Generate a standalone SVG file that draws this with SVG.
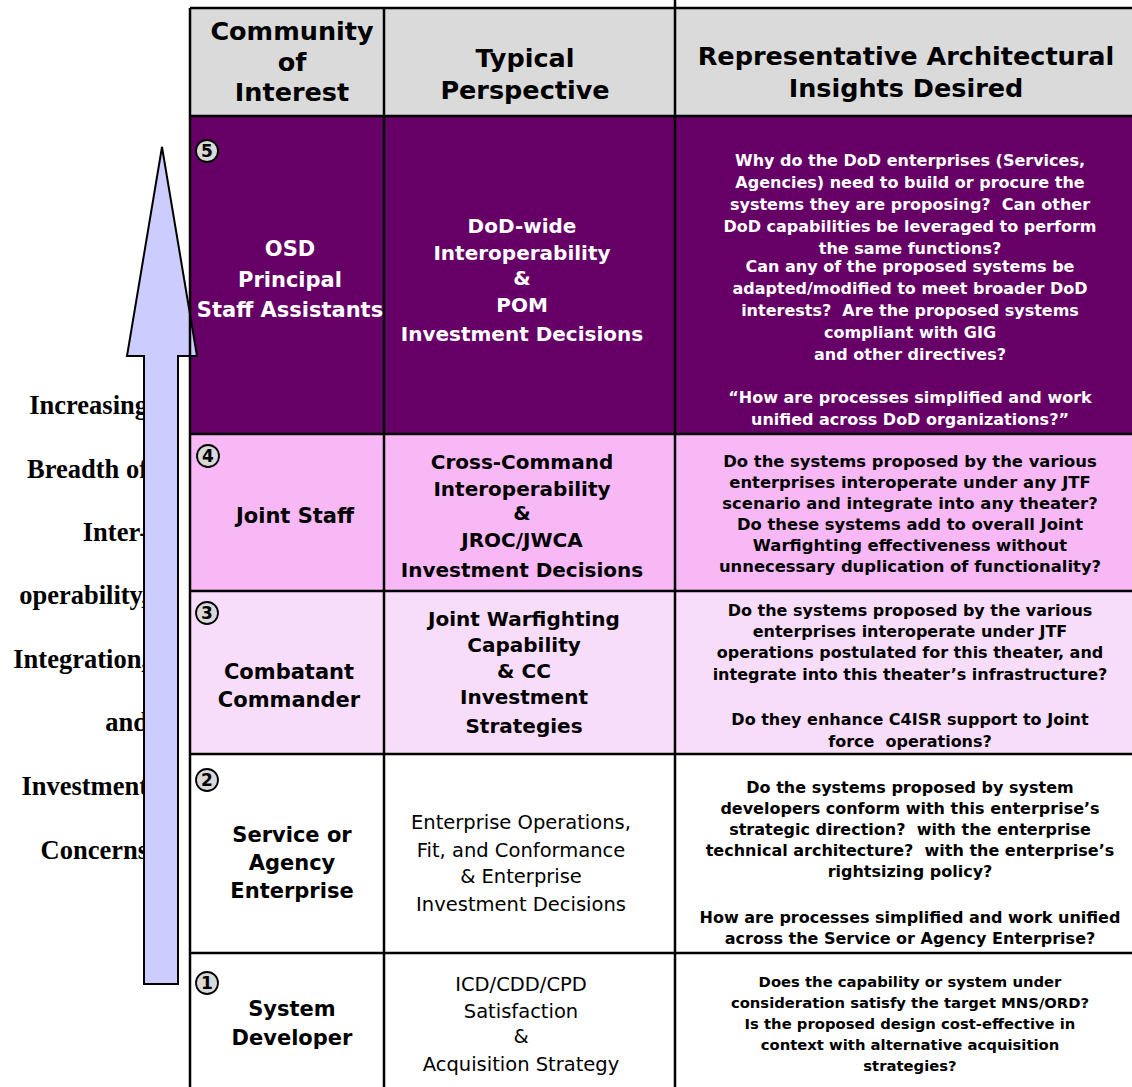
<svg xmlns="http://www.w3.org/2000/svg" width="1132" height="1087" viewBox="0 0 1132 1087">
<style>
text{font-family:"DejaVu Sans","Liberation Sans",sans-serif;text-anchor:middle;white-space:pre}
.h{font-size:25.5px;font-weight:bold;fill:#000}
.c1{font-size:21px;font-weight:bold}
.c2{font-size:20px;font-weight:bold}
.c2n{font-size:19.5px;font-weight:normal;fill:#000}
.c3{font-size:16px;font-weight:bold}
.r4{font-size:16.4px}
.r1{font-size:14.8px}
.w{fill:#fff}
.k{fill:#000}
.lt{font-family:"Liberation Serif","Times New Roman",serif;font-size:26.5px;font-weight:bold;text-anchor:end;fill:#000}
.num circle{fill:#d9d9d9;stroke:#000;stroke-width:1.8}
.num text{font-size:17px;font-weight:bold;fill:#000}
.ln{stroke:#000;stroke-width:2.5;fill:none}
</style>
<rect x="0" y="0" width="1132" height="1087" fill="#fff"/>
<g id="left-label">
<text class="lt" x="148" y="414">Increasing</text>
<text class="lt" x="148" y="478">Breadth of</text>
<text class="lt" x="148" y="541">Inter-</text>
<text class="lt" x="148" y="604">operability,</text>
<text class="lt" x="148" y="668">Integration,</text>
<text class="lt" x="148" y="731">and</text>
<text class="lt" x="148" y="795">Investment</text>
<text class="lt" x="148" y="859">Concerns</text>
</g>
<g id="table-fills">
<rect x="190" y="8" width="942" height="108" fill="#dadada"/>
<rect x="190" y="116" width="942" height="318" fill="#660066"/>
<rect x="190" y="434" width="942" height="157" fill="#f8b8f6"/>
<rect x="190" y="591" width="942" height="163" fill="#f8ddfa"/>
<rect x="190" y="754" width="942" height="333" fill="#ffffff"/>
</g>
<g id="arrow">
<path d="M162,147 L197,356 L178,356 L178,984 L144,984 L144,356 L127,356 Z" fill="#ccccff" stroke="#000" stroke-width="2" stroke-linejoin="miter"/>
</g>
<g id="grid">
<line class="ln" x1="190" y1="8" x2="1132" y2="8"/>
<line class="ln" x1="190" y1="116" x2="1132" y2="116"/>
<line class="ln" x1="190" y1="434" x2="1132" y2="434"/>
<line class="ln" x1="190" y1="591" x2="1132" y2="591"/>
<line class="ln" x1="190" y1="754" x2="1132" y2="754"/>
<line class="ln" x1="190" y1="953" x2="1132" y2="953"/>
<line class="ln" x1="190" y1="8" x2="190" y2="1087"/>
<line class="ln" x1="384" y1="8" x2="384" y2="1087"/>
<line class="ln" x1="675" y1="0" x2="675" y2="1087"/>
</g>
<g id="header">
<text class="h" x="292" y="40">Community</text>
<text class="h" x="292" y="71">of</text>
<text class="h" x="292" y="101">Interest</text>
<text class="h" x="525" y="67">Typical</text>
<text class="h" x="525" y="99">Perspective</text>
<text class="h" x="906" y="65">Representative Architectural</text>
<text class="h" x="906" y="97">Insights Desired</text>
</g>
<g id="row5">
<g class="num"><circle cx="207" cy="151" r="11"/><text x="207" y="157">5</text></g>
<text class="c1 w" x="290" y="256">OSD</text>
<text class="c1 w" x="290" y="287">Principal</text>
<text class="c1 w" x="290" y="317">Staff Assistants</text>
<text class="c2 w" x="522" y="233">DoD-wide</text>
<text class="c2 w" x="522" y="260">Interoperability</text>
<text class="c2 w" x="522" y="285">&amp;</text>
<text class="c2 w" x="522" y="312">POM</text>
<text class="c2 w" x="522" y="341">Investment Decisions</text>
<text class="c3 w" x="910" y="166">Why do the DoD enterprises (Services,</text>
<text class="c3 w" x="910" y="188">Agencies) need to build or procure the</text>
<text class="c3 w" x="910" y="210">systems they are proposing?  Can other</text>
<text class="c3 w" x="910" y="232">DoD capabilities be leveraged to perform</text>
<text class="c3 w" x="910" y="254">the same functions?</text>
<text class="c3 w" x="910" y="272">Can any of the proposed systems be</text>
<text class="c3 w" x="910" y="294">adapted/modified to meet broader DoD</text>
<text class="c3 w" x="910" y="316">interests?  Are the proposed systems</text>
<text class="c3 w" x="910" y="338">compliant with GIG</text>
<text class="c3 w" x="910" y="360">and other directives?</text>
<text class="c3 w" x="910" y="403">“How are processes simplified and work</text>
<text class="c3 w" x="910" y="425">unified across DoD organizations?”</text>
</g>
<g id="row4">
<g class="num"><circle cx="208" cy="456" r="11"/><text x="208" y="462">4</text></g>
<text class="c1 k" x="295" y="523">Joint Staff</text>
<text class="c2 k" x="522" y="469">Cross-Command</text>
<text class="c2 k" x="522" y="496">Interoperability</text>
<text class="c2 k" x="522" y="520">&amp;</text>
<text class="c2 k" x="522" y="547">JROC/JWCA</text>
<text class="c2 k" x="522" y="577">Investment Decisions</text>
<text class="c3 r4 k" x="910" y="467">Do the systems proposed by the various</text>
<text class="c3 r4 k" x="910" y="488">enterprises interoperate under any JTF</text>
<text class="c3 r4 k" x="910" y="509">scenario and integrate into any theater?</text>
<text class="c3 r4 k" x="910" y="530">Do these systems add to overall Joint</text>
<text class="c3 r4 k" x="910" y="551">Warfighting effectiveness without</text>
<text class="c3 r4 k" x="910" y="572">unnecessary duplication of functionality?</text>
</g>
<g id="row3">
<g class="num"><circle cx="207" cy="613" r="11"/><text x="207" y="619">3</text></g>
<text class="c1 k" x="289" y="679">Combatant</text>
<text class="c1 k" x="289" y="707">Commander</text>
<text class="c2 k" x="524" y="626">Joint Warfighting</text>
<text class="c2 k" x="524" y="652">Capability</text>
<text class="c2 k" x="524" y="678">&amp; CC</text>
<text class="c2 k" x="524" y="704">Investment</text>
<text class="c2 k" x="524" y="733">Strategies</text>
<text class="c3 k" x="910" y="616">Do the systems proposed by the various</text>
<text class="c3 k" x="910" y="637">enterprises interoperate under JTF</text>
<text class="c3 k" x="910" y="658">operations postulated for this theater, and</text>
<text class="c3 k" x="910" y="680">integrate into this theater’s infrastructure?</text>
<text class="c3 k" x="910" y="725">Do they enhance C4ISR support to Joint</text>
<text class="c3 k" x="910" y="747">force  operations?</text>
</g>
<g id="row2">
<g class="num"><circle cx="207" cy="780" r="11"/><text x="207" y="786">2</text></g>
<text class="c1 k" x="292" y="842">Service or</text>
<text class="c1 k" x="292" y="870">Agency</text>
<text class="c1 k" x="292" y="898">Enterprise</text>
<text class="c2n" x="521" y="829">Enterprise Operations,</text>
<text class="c2n" x="521" y="857">Fit, and Conformance</text>
<text class="c2n" x="521" y="883">&amp; Enterprise</text>
<text class="c2n" x="521" y="911">Investment Decisions</text>
<text class="c3 k" x="910" y="793">Do the systems proposed by system</text>
<text class="c3 k" x="910" y="814">developers conform with this enterprise’s</text>
<text class="c3 k" x="910" y="835">strategic direction?  with the enterprise</text>
<text class="c3 k" x="910" y="856">technical architecture?  with the enterprise’s</text>
<text class="c3 k" x="910" y="877">rightsizing policy?</text>
<text class="c3 k" x="910" y="923">How are processes simplified and work unified</text>
<text class="c3 k" x="910" y="944">across the Service or Agency Enterprise?</text>
</g>
<g id="row1">
<g class="num"><circle cx="207" cy="983" r="11"/><text x="207" y="989">1</text></g>
<text class="c1 k" x="292" y="1016">System</text>
<text class="c1 k" x="292" y="1045">Developer</text>
<text class="c2n" x="521" y="991">ICD/CDD/CPD</text>
<text class="c2n" x="521" y="1018">Satisfaction</text>
<text class="c2n" x="521" y="1043">&amp;</text>
<text class="c2n" x="521" y="1071">Acquisition Strategy</text>
<text class="c3 r1 k" x="910" y="987">Does the capability or system under</text>
<text class="c3 r1 k" x="910" y="1008">consideration satisfy the target MNS/ORD?</text>
<text class="c3 r1 k" x="910" y="1029">Is the proposed design cost-effective in</text>
<text class="c3 r1 k" x="910" y="1050">context with alternative acquisition</text>
<text class="c3 r1 k" x="910" y="1071">strategies?</text>
</g>
</svg>
